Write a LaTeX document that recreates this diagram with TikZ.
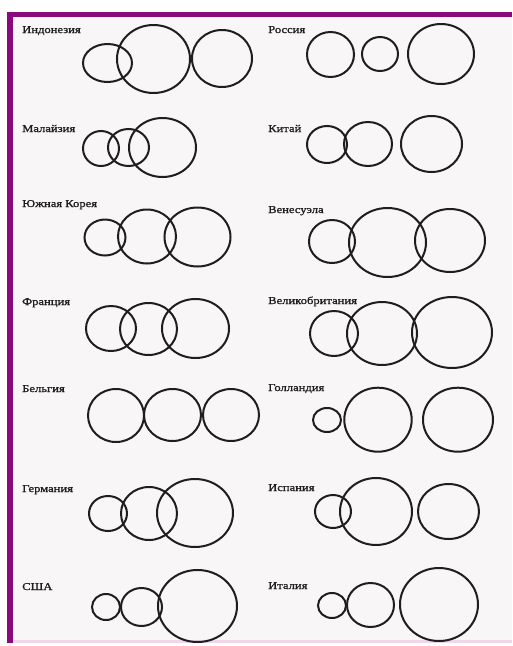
\documentclass[tikz,border=0pt]{standalone}
\usepackage{fontspec}
\setmainfont{Liberation Serif}[FakeStretch=1.2,FakeBold=1.2]
\definecolor{framec}{RGB}{136,10,124}
\definecolor{paper}{RGB}{248,246,247}
\definecolor{ink}{RGB}{30,30,30}
\definecolor{pinkline}{RGB}{240,215,236}
\newcommand\ovl[4]{\draw[ring] (#1,#2) ellipse [x radius=#3pt, y radius=#4pt];}
\begin{document}
\begin{tikzpicture}[x=1pt,y=-1pt,
  lbl/.style={anchor=base west, inner sep=0pt, font=\fontsize{10.5}{12}\selectfont, text=ink},
  ring/.style={draw=ink, line width=2pt}]
\useasboundingbox (0,0) rectangle (512,646);
\fill[white] (0,0) rectangle (512,646);
\fill[paper] (13,17) rectangle (512,640);
\fill[pinkline] (13,640) rectangle (512,643);
\fill[framec] (7,12) rectangle (512,17);
\fill[framec] (7,12) rectangle (13,643);
% labels left
\node[lbl] (l1) at (22,33) {Индонезия};
\node[lbl] (l2) at (22,132) {Малайзия};
\node[lbl] (l3) at (22,207) {Южная Корея};
\node[lbl] (l4) at (22,305) {Франция};
\node[lbl] (l5) at (22,392) {Бельгия};
\node[lbl] (l6) at (22,492) {Германия};
\node[lbl] (l7) at (22,590) {США};
% labels right
\node[lbl] (r1) at (268,33) {Россия};
\node[lbl] (r2) at (268,132) {Китай};
\node[lbl] (r3) at (268,213) {Венесуэла};
\node[lbl] (r4) at (268,304) {Великобритания};
\node[lbl] (r5) at (268,391) {Голландия};
\node[lbl] (r6) at (268,491) {Испания};
\node[lbl] (r7) at (268,589) {Италия};
% Indonesia
\ovl{107.5}{63}{24.5}{19}\ovl{153.5}{59}{36.5}{34}\ovl{222}{58.5}{30}{28.5}
% Malaysia
\ovl{101}{148.5}{18}{17.5}\ovl{128.5}{147.5}{20.5}{18.5}\ovl{162.5}{147.5}{33.5}{29.5}
% Korea
\ovl{105}{237.5}{20.5}{18}\ovl{147}{236.5}{29}{27}\ovl{197.5}{237}{33}{29.5}
% France
\ovl{111}{328.5}{25}{22.5}\ovl{148.5}{329}{28.5}{26}\ovl{195.5}{328.5}{33.5}{29.5}
% Belgium
\ovl{116}{415.5}{28}{26.5}\ovl{172.5}{415}{28.5}{26}\ovl{231}{415}{28}{26}
% Germany
\ovl{108}{513.5}{19}{17.5}\ovl{149}{513.5}{28}{26.5}\ovl{195}{513}{38}{34}
% USA
\ovl{106}{607}{14}{13}\ovl{141.5}{607}{20.5}{19}\ovl{197.5}{606}{39.5}{36}
% Russia
\ovl{330.5}{54.5}{23.5}{22.5}\ovl{380}{54}{18}{17}\ovl{441}{54}{33}{30}
% China
\ovl{327}{144.5}{20}{18.5}\ovl{368}{144}{24}{22}\ovl{431.5}{144}{30.5}{28}
% Venezuela
\ovl{332}{241.5}{23}{21.5}\ovl{387.5}{242.5}{38.5}{34.5}\ovl{450}{240.5}{35}{31.5}
% UK
\ovl{334}{333.5}{24}{22.5}\ovl{382}{333.5}{35}{31.5}\ovl{452}{332.5}{40}{35.5}
% Holland
\ovl{327}{420}{14}{12}\ovl{378}{419.7}{33.7}{32}\ovl{458}{419.7}{35}{32}
% Spain
\ovl{333}{511.5}{18}{16.5}\ovl{376}{511.5}{36}{33.5}\ovl{448.5}{511.5}{30.5}{27.5}
% Italy
\ovl{332}{605.5}{14}{12.5}\ovl{370.5}{605}{23.5}{22}\ovl{439}{604.5}{39}{36.5}
\end{tikzpicture}
\end{document}
